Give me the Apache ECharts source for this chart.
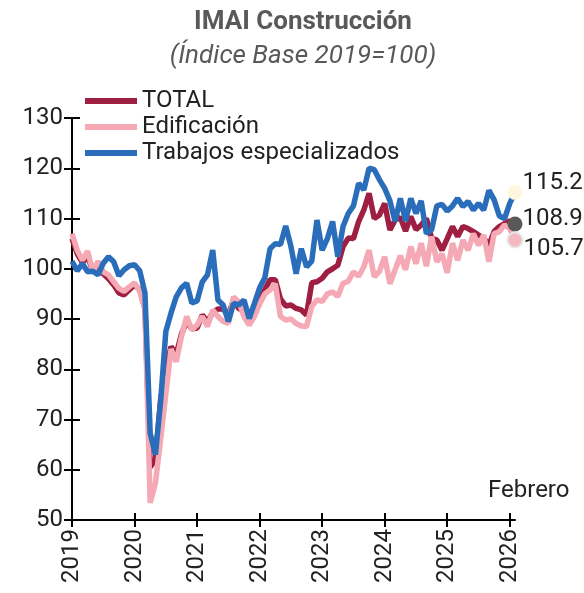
<!DOCTYPE html>
<html>
<head>
<meta charset="utf-8">
<script src="https://cdn.jsdelivr.net/npm/echarts@6/dist/echarts.min.js"></script>
<style>
  html, body { margin: 0; padding: 0; background: #fff; }
  #chart { width: 584px; height: 593px; }
</style>
</head>
<body>
<div id="chart"></div>
<script>
// meses ene-2019 .. feb-2026
const months = []
for (let y = 2019; y <= 2026; y++) {
  for (let m = 1; m <= 12; m++) {
    if (y === 2026 && m > 2) break
    months.push(y + '-' + (m < 10 ? '0' + m : m))
  }
}

const total = [
  106, 103, 101.2, 102.5, 99.5, 100.8, 99, 98, 96.8, 95.2, 94.8, 95.8,
  96.8, 95.8, 92, 60.5, 62, 74, 80, 84.5, 83, 87, 89.5, 88,
  88.2, 90.8, 89.5, 91.3, 92, 92, 90.8, 93.8, 92.1, 91.5, 90.5, 91.2,
  93.8, 95.8, 97.8, 97.8, 94, 92.6, 92.8, 92.1, 91.8, 90.8, 97.2, 97.4,
  98.1, 99.4, 100, 100.7, 104.4, 106.1, 106, 109.4, 111.7, 115, 110, 110.7,
  113, 107.7, 109.7, 110.2, 107.5, 110.4, 107.8, 108.7, 110, 106.1, 105.7, 103.7,
  106, 108.4, 106.4, 108.4, 108, 107.4, 106.7, 106.1, 104.7, 107.4, 108.4, 109,
  109.5, 108.9
]

const edificacion = [
  107, 103.7, 101.7, 103.5, 99.4, 101.5, 99.4, 98.8, 97.4, 96.1, 95.5, 96.4,
  97.2, 95.5, 92, 53.4, 57.3, 66, 75, 84, 81.5, 86.5, 90.5, 87.8,
  88.8, 90.5, 88.5, 91.8, 90.5, 89.5, 89.1, 94.4, 93.4, 90.5, 88.8, 90.5,
  93, 95, 95.8, 97, 90.5, 89.8, 90, 89.1, 88.6, 88.5, 92.5, 93.8,
  93.5, 95, 95.4, 94.5, 97.1, 97.5, 99.4, 98.5, 100.4, 103.7, 98.4, 99.5,
  102.4, 97, 99.8, 102.6, 99.8, 104.4, 101, 105.1, 100.5, 106.4, 101.4, 103,
  99.2, 105.1, 101.7, 105.7, 103.7, 107, 104.7, 106.7, 101.4, 107, 107.4, 108.7,
  108, 105.7
]

const trabajos = [
  101.5, 99.6, 101, 99.4, 99.5, 98.8, 101.1, 102.4, 101.4, 98.6, 99.8, 100.6,
  100.8, 99.6, 95.2, 67.3, 63, 73.5, 87.5, 91.2, 94.4, 96.2, 97.1, 93.2,
  93.6, 97.4, 98.8, 103.7, 93.8, 92.8, 89.5, 93.1, 92.8, 93.8, 90.1, 93.1,
  96.2, 98.2, 104, 105, 104.8, 108.5, 104.5, 99, 104, 100.4, 101.5, 109.7,
  103.7, 106, 109.4, 102.4, 108.4, 111, 112.5, 117, 115.7, 120, 119.7, 117.7,
  116, 113.5, 109.4, 114, 109.5, 114, 111, 113.5, 107, 107.8, 112.5, 112.8,
  111.5, 112.5, 114, 112.4, 113.4, 111.7, 113, 111.7, 115.6, 113.7, 110.5, 110,
  113, 115.2
]

const yTicks = { min: 50, max: 130, interval: 10 }
const font = 'Roboto, "Noto Sans", sans-serif'
const last = months[months.length - 1]

let myChart = echarts.init(document.getElementById('chart'))
myChart.setOption({
  animation: false,
  title: [
    {
      text: 'IMAI Construcción',
      left: 298,
      top: 4,
      textAlign: 'center',
      textStyle: { fontFamily: font, fontSize: 26, fontWeight: 'bold', color: '#595959' }
    },
    {
      text: '(Índice Base 2019=100)',
      left: 298,
      top: 38,
      textAlign: 'center',
      textStyle: { fontFamily: font, fontSize: 26, fontStyle: 'italic', fontWeight: 'normal', color: '#595959' }
    }
  ],
  legend: {
    data: ['TOTAL', 'Edificación', 'Trabajos especializados'],
    orient: 'vertical',
    left: 80,
    top: 83,
    icon: 'rect',
    itemWidth: 52,
    itemHeight: 6,
    itemGap: 0,
    textStyle: { fontFamily: font, fontSize: 24, color: '#222', lineHeight: 26 }
  },
  grid: { left: 72, right: 69, top: 118, bottom: 73 },
  xAxis: [
    {
      type: 'category',
      data: months,
      boundaryGap: false,
      axisLine: { lineStyle: { color: '#000', width: 2 } },
      axisTick: { interval: (i) => i % 12 === 0, length: 7, lineStyle: { color: '#000', width: 2 } },
      axisLabel: {
        interval: (i) => i % 12 === 0,
        formatter: (v) => v.slice(0, 4),
        rotate: 90,
        margin: 9,
        fontFamily: font,
        fontSize: 24,
        color: '#222'
      },
      splitLine: { show: false }
    },
    {
      type: 'category',
      data: months,
      boundaryGap: false,
      position: 'bottom',
      axisLine: { show: false },
      axisTick: { inside: true, interval: (i) => i % 12 === 0, length: 7, lineStyle: { color: '#000', width: 2 } },
      axisLabel: { show: false },
      splitLine: { show: false }
    }
  ],
  yAxis: [
    {
      type: 'value',
      min: yTicks.min,
      max: yTicks.max,
      interval: yTicks.interval,
      axisLine: { show: true, lineStyle: { color: '#000', width: 2 } },
      axisTick: { show: true, length: 8, lineStyle: { color: '#000', width: 2 } },
      axisLabel: { margin: 9, fontFamily: font, fontSize: 24, color: '#222' },
      splitLine: { show: false }
    },
    {
      type: 'value',
      position: 'left',
      min: yTicks.min,
      max: yTicks.max,
      interval: yTicks.interval,
      axisLine: { show: false },
      axisTick: { show: true, inside: true, length: 8, lineStyle: { color: '#000', width: 2 } },
      axisLabel: { show: false },
      splitLine: { show: false }
    }
  ],
  series: [
    {
      name: 'TOTAL',
      type: 'line',
      data: total,
      symbol: 'none',
      color: '#9E1F41',
      lineStyle: { width: 5.5, color: '#9E1F41' }
    },
    {
      name: 'Edificación',
      type: 'line',
      data: edificacion,
      symbol: 'none',
      color: '#F4A9B5',
      lineStyle: { width: 5.5, color: '#F4A9B5' }
    },
    {
      name: 'Trabajos especializados',
      type: 'line',
      data: trabajos,
      symbol: 'none',
      color: '#2A6EBB',
      lineStyle: { width: 5.5, color: '#2A6EBB' }
    },
    {
      name: 'fin',
      type: 'scatter',
      symbolSize: 15,
      z: 5,
      itemStyle: { opacity: 1 },
      label: {
        show: true,
        position: 'right',
        distance: 0,
        fontFamily: font,
        fontSize: 24,
        color: '#222',
        opacity: 1,
        formatter: (p) => p.value[1].toFixed(1)
      },
      data: [
        { value: [last, trabajos[trabajos.length - 1]], itemStyle: { color: '#FFF6E0', opacity: 1 }, label: { offset: [0, -9] } },
        { value: [last, total[total.length - 1]], itemStyle: { color: '#595959', opacity: 1 }, label: { offset: [0, -5] } },
        { value: [last, edificacion[edificacion.length - 1]], itemStyle: { color: '#F4B8C0', borderColor: '#E6E6E6', borderWidth: 2, opacity: 1 }, label: { offset: [0, 9] } }
      ]
    }
  ],
  graphic: [
    {
      type: 'text',
      left: 488,
      top: 479,
      style: { text: 'Febrero', fontFamily: font, fontSize: 24, fill: '#222' }
    }
  ]
})
</script>
</body>
</html>
